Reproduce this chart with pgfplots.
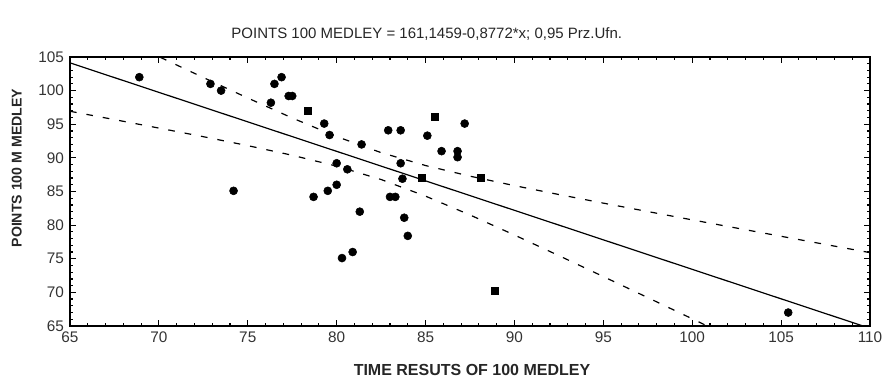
\documentclass[border=0pt]{standalone}
\usepackage{pgfplots}
\pgfplotsset{compat=1.18}
\usepackage{fontspec}
\setmainfont{Liberation Sans}
\begin{document}
\begin{tikzpicture}
\begin{axis}[
  scale only axis,
  width=600pt, height=201.75pt,
  xmin=65, xmax=110, ymin=65, ymax=105,
  xtick={65,70,...,110}, ytick={65,70,...,105},
  xtick pos=both, ytick pos=both,
  tick align=inside,
  major tick length=4.5pt,
  tick style={black, line width=0.9pt},
  axis line style={line width=1.1pt},
  /pgf/number format/assume math mode=true,
  ticklabel style={font=\fontsize{11.5}{13}\selectfont, text=black!80},
  xticklabel style={yshift=-1pt},
  yticklabel style={xshift=-1pt},
  title={POINTS 100 MEDLEY = 161,1459-0,8772*x; 0,95 Prz.Ufn.},
  title style={at={(0.446,1)}, anchor=center, yshift=11.5pt, font=\fontsize{11.25}{13}\selectfont, text=black!85},
  xlabel={TIME RESUTS OF 100 MEDLEY},
  xlabel style={at={(0.5025,0)}, anchor=center, yshift=-33pt, font=\bfseries\fontsize{12}{14}\selectfont, text=black!85},
  ylabel={POINTS 100 M MEDLEY},
  ylabel style={at={(-0.0667,0.587)}, anchor=center, font=\bfseries\fontsize{10.6}{12}\selectfont, text=black!85},
]
% regression line
\addplot[black, line width=0.9pt] coordinates {(65,104.128) (110,64.654)};
% upper confidence band
\addplot[black, line width=0.9pt, dash pattern=on 5pt off 7.5pt] coordinates {
(65,111.33) (67.5,108.18) (70,105.05) (72.5,101.95) (75,98.90) (77.5,95.93)
(80,93.17) (82.5,90.78) (85,88.86) (87.5,87.28) (90,85.87) (92.5,84.55)
(95,83.27) (97.5,82.02) (100,80.78) (102.5,79.56) (105,78.34) (107.5,77.12) (110,75.91)};
% lower confidence band
\addplot[black, line width=0.9pt, dash pattern=on 5pt off 7.5pt] coordinates {
(65,96.93) (67.5,95.69) (70,94.43) (72.5,93.15) (75,91.82) (77.5,90.39)
(80,88.77) (82.5,86.78) (85,84.31) (87.5,81.51) (90,78.53) (92.5,75.46)
(95,72.35) (97.5,69.22) (100,66.07) (102.5,62.91) (105,59.74) (107.5,56.57) (110,53.40)};
% data points (circles)
\addplot[only marks, mark=*, mark size=3pt, black] coordinates {
(68.9,102.0) (72.9,101.0) (73.5,100.0) (74.2,85.1) (76.3,98.2) (76.5,101.0)
(76.9,102.0) (77.3,99.2) (77.5,99.2) (78.7,84.2) (79.3,95.1) (79.6,93.4)
(79.5,85.1) (80.0,89.2) (80.0,86.0) (80.3,75.1) (80.6,88.3) (80.9,76.0)
(81.3,82.0) (81.4,92.0) (82.9,94.1) (83.6,94.1) (83.6,89.2) (83.7,86.9)
(83.0,84.2) (83.3,84.2) (83.8,81.1) (84.0,78.4) (85.1,93.3) (85.9,91.0)
(86.8,91.0) (86.8,90.1) (87.2,95.1) (105.4,67.0)};
% data points (squares)
\addplot[only marks, mark=square*, mark size=2.6pt, black] coordinates {
(78.4,97.0) (84.8,87.0) (85.5,96.1) (88.1,87.0) (88.9,70.2)};
\end{axis}
% tick marks on all four sides (major every 5, minor every 1)
\foreach \i in {0,...,45}{
  \pgfmathsetmacro\len{mod(\i,5)==0 ? 4.5 : 2.5}
  \draw[line width=0.9pt] ({\i*13.33333pt},0pt) -- ({\i*13.33333pt},{\len*1pt});
  \draw[line width=0.9pt] ({\i*13.33333pt},201.75pt) -- ({\i*13.33333pt},{201.75pt-\len*1pt});
}
\foreach \j in {0,...,40}{
  \pgfmathsetmacro\len{mod(\j,5)==0 ? 4.5 : 2.5}
  \draw[line width=0.9pt] (0pt,{\j*5.04375pt}) -- ({\len*1pt},{\j*5.04375pt});
  \draw[line width=0.9pt] (600pt,{\j*5.04375pt}) -- ({600pt-\len*1pt},{\j*5.04375pt});
}
\pgfresetboundingbox
\path[use as bounding box] (-52.5pt,-46.5pt) rectangle (612pt,244.5pt);
\end{tikzpicture}
\end{document}
